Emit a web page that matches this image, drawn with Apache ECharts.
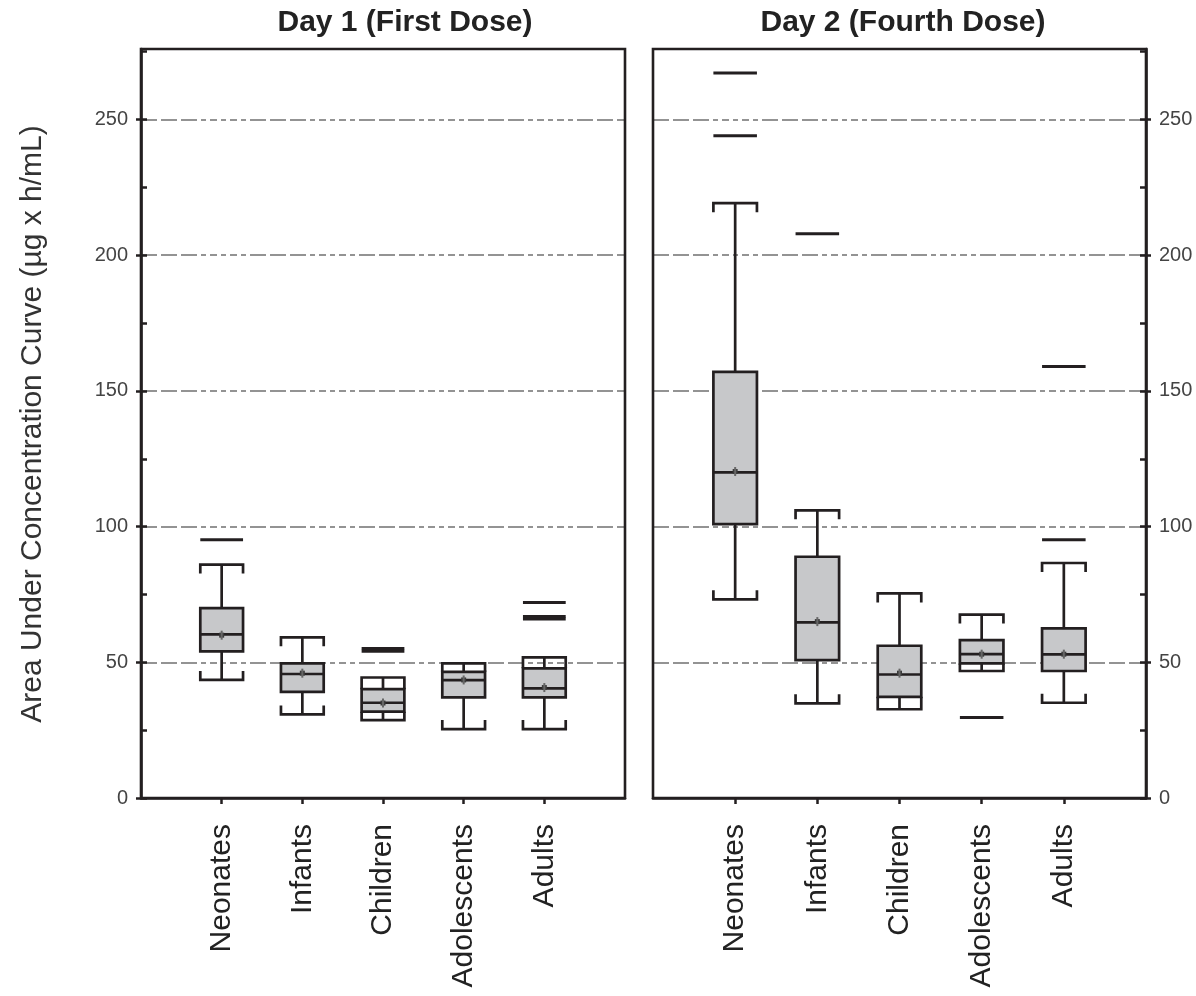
<!DOCTYPE html>
<html>
<head>
<meta charset="utf-8">
<script src="https://cdn.jsdelivr.net/npm/echarts@6/dist/echarts.min.js"></script>
<style>html,body{margin:0;padding:0;background:#fff;}#c{width:1196px;height:996px;}</style>
</head>
<body>
<div id="c"></div>
<script>
// ---- data ----
const categories = ['Neonates', 'Infants', 'Children', 'Adolescents', 'Adults'];
const panelTitles = ['Day 1 (First Dose)', 'Day 2 (Fourth Dose)'];
const yAxisName = 'Area Under Concentration Curve (µg x h/mL)';
const yTickLabels = [0, 50, 100, 150, 200, 250];
const yMinorTicks = [0, 25, 50, 75, 100, 125, 150, 175, 200, 225, 250, 275];

// Day 1
const day1Low    = [43.5, 30.8, 28.7, 25.4, 25.4];
const day1Q1     = [54.0, 39.1, 31.8, 37.1, 37.1];
const day1Median = [60.3, 45.7, 35.1, 43.4, 40.4];
const day1Q3     = [70.0, 49.6, 40.1, 46.5, 47.8];
const day1High   = [86.0, 59.2, 44.4, 49.6, 51.8];
const day1Mean   = [60.0, 46.0, 35.0, 43.5, 40.7];
const day1Outliers = [[0, 95.2], [2, 54.1], [2, 55.1], [4, 72.0], [4, 66.0], [4, 66.9]];

// Day 2
const day2Low    = [73.2, 34.9, 32.7, 46.8, 35.1];
const day2Q1     = [100.9, 50.8, 37.3, 49.6, 46.8];
const day2Median = [120.0, 64.7, 45.5, 53.0, 52.9];
const day2Q3     = [157.0, 88.9, 56.1, 58.2, 62.5];
const day2High   = [219.2, 106.0, 75.4, 67.6, 86.6];
const day2Mean   = [120.3, 65.0, 46.0, 53.0, 53.0];
const day2Outliers = [[0, 267.2], [0, 244.0], [1, 207.9], [3, 29.7], [4, 159.0], [4, 95.2]];

// ---- styling ----
const INK = '#231f20';
const BOXFILL = '#c7c8ca';
const GRIDC = '#939393';
const FONT = 'Liberation Sans, Arial, sans-serif';
const DASH = [16, 4, 16, 4, 16, 4, 5, 4, 7, 4, 5, 4, 7, 4, 5, 4];
const paddedCats = [''].concat(categories, ['']);

function boxData(low, q1, med, q3, high, mean) {
  return categories.map((c, i) => [i + 1, low[i], q1[i], med[i], q3[i], high[i], mean[i]]);
}
function outData(list) { return list.map(o => [o[0] + 1, o[1]]); }

function halfWidth(api) {
  const band = api.size([1, 0])[0] || 80;
  return band * 0.265;
}

function renderBox(params, api) {
  const xi = api.value(0);
  const low = api.coord([xi, api.value(1)]);
  const q1 = api.coord([xi, api.value(2)]);
  const med = api.coord([xi, api.value(3)]);
  const q3 = api.coord([xi, api.value(4)]);
  const high = api.coord([xi, api.value(5)]);
  const mean = api.coord([xi, api.value(6)]);
  const hw = halfWidth(api);
  const cx = low[0];
  const st = { stroke: INK, lineWidth: 2.7, fill: 'none' };
  const capLen = d => (d < 14 ? d : 9);
  const topL = capLen(q3[1] - high[1]);
  const botL = capLen(low[1] - q1[1]);
  return {
    type: 'group',
    children: [
      { type: 'line', shape: { x1: cx, y1: high[1], x2: cx, y2: q3[1] }, style: st },
      { type: 'line', shape: { x1: cx, y1: q1[1], x2: cx, y2: low[1] }, style: st },
      { type: 'polyline', shape: { points: [[cx - hw, high[1] + topL], [cx - hw, high[1]], [cx + hw, high[1]], [cx + hw, high[1] + topL]] }, style: st },
      { type: 'polyline', shape: { points: [[cx - hw, low[1] - botL], [cx - hw, low[1]], [cx + hw, low[1]], [cx + hw, low[1] - botL]] }, style: st },
      { type: 'rect', shape: { x: cx - hw, y: q3[1], width: 2 * hw, height: q1[1] - q3[1] }, style: { fill: BOXFILL, stroke: INK, lineWidth: 2.7 } },
      { type: 'line', shape: { x1: cx - hw, y1: med[1], x2: cx + hw, y2: med[1] }, style: st },
      { type: 'rect', shape: { x: cx - 2.5, y: mean[1] - 2.5, width: 5, height: 5 }, style: { fill: '#3a3a3a' } },
      { type: 'rect', shape: { x: cx - 1, y: mean[1] - 4.5, width: 2, height: 9 }, style: { fill: '#666' } }
    ]
  };
}

function renderOutlier(params, api) {
  const xi = api.value(0);
  const p = api.coord([xi, api.value(1)]);
  const hw = halfWidth(api);
  return { type: 'line', shape: { x1: p[0] - hw, y1: p[1], x2: p[0] + hw, y2: p[1] }, style: { stroke: INK, lineWidth: 3 } };
}

function xAxisCfg(gi) {
  return {
    type: 'category', gridIndex: gi, data: paddedCats, boundaryGap: false,
    axisLine: { show: true, lineStyle: { color: INK, width: 2.6 } },
    axisTick: { show: true, inside: false, length: 6, lineStyle: { color: INK, width: 2.5 },
      interval: (idx, val) => val !== '' },
    axisLabel: { rotate: 90, fontSize: 30, fontFamily: FONT, color: '#222', margin: 26,
      interval: (idx, val) => val !== '' },
    splitLine: { show: false }
  };
}
function yMainCfg(gi, pos) {
  return {
    type: 'value', gridIndex: gi, min: 0, max: 276, interval: 50, position: pos,
    axisLine: { show: true, lineStyle: { color: INK, width: 2.6 } },
    axisTick: { show: true, inside: false, length: 5, lineStyle: { color: INK, width: 2.5 }, customValues: yTickLabels },
    axisLabel: { customValues: yTickLabels, fontSize: 20, fontFamily: FONT, color: '#444', margin: 13 },
    splitLine: { show: true, lineStyle: { color: GRIDC, width: 2, type: DASH } }
  };
}
function yMinorCfg(gi, pos) {
  return {
    type: 'value', gridIndex: gi, min: 0, max: 276, interval: 25, position: pos,
    axisLine: { show: false },
    axisTick: { show: true, inside: true, length: 6, lineStyle: { color: INK, width: 2.5 }, customValues: yMinorTicks },
    axisLabel: { show: false },
    splitLine: { show: false }
  };
}

const chart = echarts.init(document.getElementById('c'));
chart.setOption({
  backgroundColor: '#fff',
  animation: false,
  grid: [
    { left: 141, top: 49, width: 484, height: 749, show: true, borderColor: INK, borderWidth: 2.6, z: 10, backgroundColor: 'transparent' },
    { left: 653, top: 49, width: 493, height: 749, show: true, borderColor: INK, borderWidth: 2.6, z: 10, backgroundColor: 'transparent' }
  ],
  xAxis: [xAxisCfg(0), xAxisCfg(1)],
  yAxis: [yMainCfg(0, 'left'), yMinorCfg(0, 'left'), yMainCfg(1, 'right'), yMinorCfg(1, 'right')],
  graphic: [
    { type: 'text', x: 405, y: 23, style: { text: panelTitles[0], font: 'bold 30px ' + FONT, fill: '#222', textAlign: 'center', textVerticalAlign: 'middle' } },
    { type: 'text', x: 903, y: 23, style: { text: panelTitles[1], font: 'bold 30px ' + FONT, fill: '#222', textAlign: 'center', textVerticalAlign: 'middle' } },
    { type: 'text', x: 33, y: 424, rotation: Math.PI / 2, style: { text: yAxisName, font: '30px ' + FONT, fill: '#333', textAlign: 'center', textVerticalAlign: 'middle' } }
  ],
  series: [
    { type: 'custom', name: 'Day 1', xAxisIndex: 0, yAxisIndex: 0, renderItem: renderBox, data: boxData(day1Low, day1Q1, day1Median, day1Q3, day1High, day1Mean), encode: { x: 0, y: [1, 2, 3, 4, 5] }, z: 3 },
    { type: 'custom', name: 'Day 1 outliers', xAxisIndex: 0, yAxisIndex: 0, renderItem: renderOutlier, data: outData(day1Outliers), encode: { x: 0, y: 1 }, z: 3 },
    { type: 'custom', name: 'Day 2', xAxisIndex: 1, yAxisIndex: 2, renderItem: renderBox, data: boxData(day2Low, day2Q1, day2Median, day2Q3, day2High, day2Mean), encode: { x: 0, y: [1, 2, 3, 4, 5] }, z: 3 },
    { type: 'custom', name: 'Day 2 outliers', xAxisIndex: 1, yAxisIndex: 2, renderItem: renderOutlier, data: outData(day2Outliers), encode: { x: 0, y: 1 }, z: 3 }
  ]
});
</script>
</body>
</html>
